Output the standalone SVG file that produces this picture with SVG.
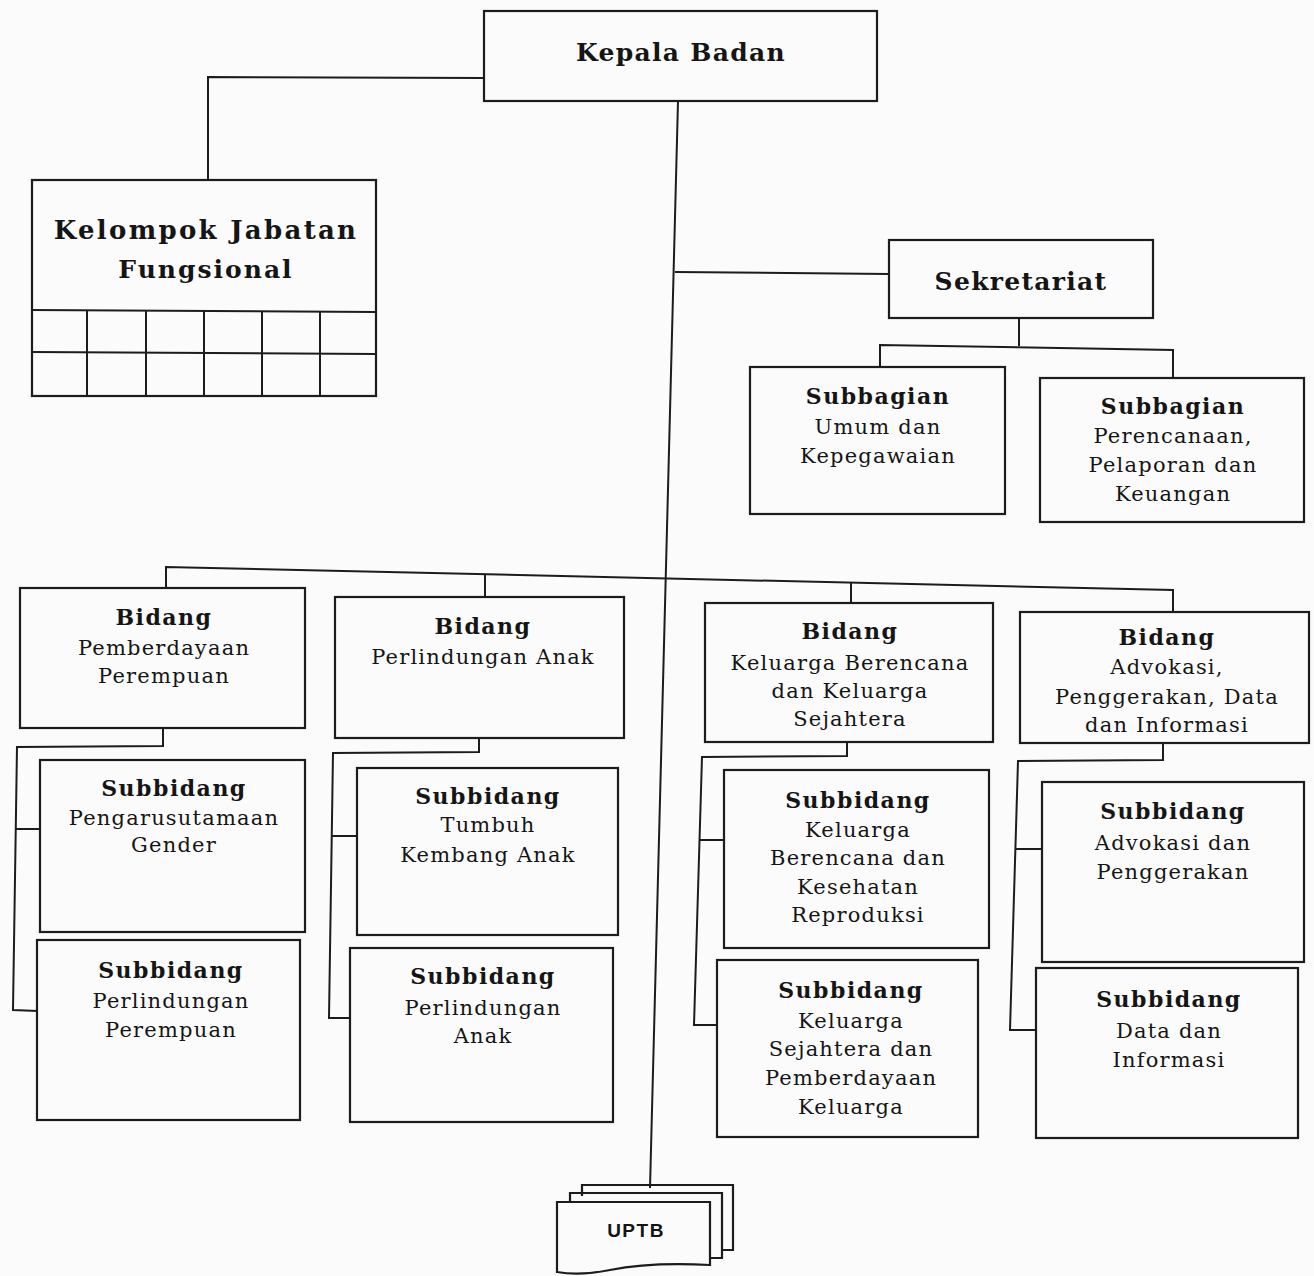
<svg xmlns="http://www.w3.org/2000/svg" width="1314" height="1276" viewBox="0 0 1314 1276">
<style>
.box{fill:none;stroke:#1c1c1c;stroke-width:2.2}
.ln{fill:none;stroke:#1c1c1c;stroke-width:2}
text{font-family:"DejaVu Serif","Liberation Serif",serif;fill:#151515;text-anchor:middle}
.b{font-weight:bold;font-size:22px;letter-spacing:1.5px}
.r{font-size:21px;letter-spacing:1.2px}
.big{font-weight:bold;font-size:25px;letter-spacing:1.3px}
</style>
<rect width="1314" height="1276" fill="#fbfbfb"/>
<g id="connectors">
<polyline class="ln" points="484,78 208,77 208,180"/>
<line class="ln" x1="678" y1="101" x2="650" y2="1188"/>
<line class="ln" x1="675" y1="272" x2="889" y2="274"/>
<polyline class="ln" points="1019,318 1019,346"/>
<polyline class="ln" points="880,368 880,345 1173,350 1173,378"/>
<polyline class="ln" points="166,588 166,567 1173,590 1173,612"/>
<line class="ln" x1="485" y1="575" x2="485" y2="598"/>
<line class="ln" x1="851" y1="583" x2="851" y2="604"/>
<polyline class="ln" points="163,728 163,746 17,747 13,1010 38,1011"/>
<line class="ln" x1="15" y1="829" x2="41" y2="829"/>
<polyline class="ln" points="479,738 479,752 333,753 329,1018 350,1018"/>
<line class="ln" x1="331" y1="836" x2="357" y2="836"/>
<polyline class="ln" points="847,742 847,756 702,757 694,1025 717,1025"/>
<line class="ln" x1="699" y1="840" x2="725" y2="840"/>
<polyline class="ln" points="1163,743 1163,760 1018,761 1010,1030 1036,1030"/>
<line class="ln" x1="1015" y1="849" x2="1042" y2="849"/>
</g>
<g id="kepala-badan">
<rect class="box" x="484" y="11" width="393" height="90"/>
<text class="big" x="681" y="61">Kepala Badan</text>
</g>
<g id="kelompok-jabatan-fungsional">
<rect class="box" x="32" y="180" width="344" height="216"/>
<line class="ln" x1="32" y1="310" x2="376" y2="312"/>
<line class="ln" x1="32" y1="352" x2="376" y2="354"/>
<line class="ln" x1="87" y1="310" x2="87" y2="396"/>
<line class="ln" x1="146" y1="310" x2="146" y2="396"/>
<line class="ln" x1="204" y1="311" x2="204" y2="396"/>
<line class="ln" x1="262" y1="311" x2="262" y2="396"/>
<line class="ln" x1="320" y1="311" x2="320" y2="396"/>
<text class="big" x="206" y="239" style="font-size:26px;letter-spacing:2.3px">Kelompok Jabatan</text>
<text class="big" x="206" y="278" style="letter-spacing:2px">Fungsional</text>
</g>
<g id="sekretariat">
<rect class="box" x="889" y="240" width="264" height="78"/>
<text class="big" x="1021" y="290">Sekretariat</text>
</g>
<g id="subbagian-umum">
<rect class="box" x="750" y="367" width="255" height="147"/>
<text class="b" x="878" y="404">Subbagian</text>
<text class="r" x="878" y="434">Umum dan</text>
<text class="r" x="878" y="463">Kepegawaian</text>
</g>
<g id="subbagian-perencanaan">
<rect class="box" x="1040" y="378" width="264" height="144"/>
<text class="b" x="1173" y="414">Subbagian</text>
<text class="r" x="1173" y="443">Perencanaan,</text>
<text class="r" x="1173" y="472">Pelaporan dan</text>
<text class="r" x="1173" y="501">Keuangan</text>
</g>
<g id="bidang-pp">
<rect class="box" x="20" y="588" width="285" height="140"/>
<text class="b" x="164" y="625">Bidang</text>
<text class="r" x="164" y="655">Pemberdayaan</text>
<text class="r" x="164" y="683">Perempuan</text>
</g>
<g id="bidang-pa">
<rect class="box" x="335" y="597" width="289" height="141"/>
<text class="b" x="483" y="634">Bidang</text>
<text class="r" x="483" y="664">Perlindungan Anak</text>
</g>
<g id="bidang-kb">
<rect class="box" x="705" y="603" width="288" height="139"/>
<text class="b" x="850" y="639">Bidang</text>
<text class="r" x="850" y="670">Keluarga Berencana</text>
<text class="r" x="850" y="698">dan Keluarga</text>
<text class="r" x="850" y="726">Sejahtera</text>
</g>
<g id="bidang-advokasi">
<rect class="box" x="1020" y="612" width="289" height="131"/>
<text class="b" x="1167" y="645">Bidang</text>
<text class="r" x="1167" y="674">Advokasi,</text>
<text class="r" x="1167" y="704">Penggerakan, Data</text>
<text class="r" x="1167" y="732">dan Informasi</text>
</g>
<g id="subbidang-gender">
<rect class="box" x="40" y="760" width="265" height="172"/>
<text class="b" x="174" y="796">Subbidang</text>
<text class="r" x="174" y="825">Pengarusutamaan</text>
<text class="r" x="174" y="852">Gender</text>
</g>
<g id="subbidang-perlindungan-perempuan">
<rect class="box" x="37" y="940" width="263" height="180"/>
<text class="b" x="171" y="978">Subbidang</text>
<text class="r" x="171" y="1008">Perlindungan</text>
<text class="r" x="171" y="1037">Perempuan</text>
</g>
<g id="subbidang-tumbuh-kembang">
<rect class="box" x="357" y="768" width="261" height="167"/>
<text class="b" x="488" y="804">Subbidang</text>
<text class="r" x="488" y="832">Tumbuh</text>
<text class="r" x="488" y="862">Kembang Anak</text>
</g>
<g id="subbidang-perlindungan-anak">
<rect class="box" x="350" y="948" width="263" height="174"/>
<text class="b" x="483" y="984">Subbidang</text>
<text class="r" x="483" y="1015">Perlindungan</text>
<text class="r" x="483" y="1043">Anak</text>
</g>
<g id="subbidang-kb-kesehatan">
<rect class="box" x="724" y="770" width="265" height="178"/>
<text class="b" x="858" y="808">Subbidang</text>
<text class="r" x="858" y="837">Keluarga</text>
<text class="r" x="858" y="865">Berencana dan</text>
<text class="r" x="858" y="894">Kesehatan</text>
<text class="r" x="858" y="922">Reproduksi</text>
</g>
<g id="subbidang-ks-pemberdayaan">
<rect class="box" x="717" y="960" width="261" height="177"/>
<text class="b" x="851" y="998">Subbidang</text>
<text class="r" x="851" y="1028">Keluarga</text>
<text class="r" x="851" y="1056">Sejahtera dan</text>
<text class="r" x="851" y="1085">Pemberdayaan</text>
<text class="r" x="851" y="1114">Keluarga</text>
</g>
<g id="subbidang-advokasi">
<rect class="box" x="1042" y="782" width="262" height="180"/>
<text class="b" x="1173" y="819">Subbidang</text>
<text class="r" x="1173" y="850">Advokasi dan</text>
<text class="r" x="1173" y="879">Penggerakan</text>
</g>
<g id="subbidang-data">
<rect class="box" x="1036" y="968" width="262" height="170"/>
<text class="b" x="1169" y="1007">Subbidang</text>
<text class="r" x="1169" y="1038">Data dan</text>
<text class="r" x="1169" y="1067">Informasi</text>
</g>
<g id="uptb">
<path class="box" d="M582,1196 V1185 H733 V1250 H722" fill="#fbfbfb"/>
<path class="box" d="M570,1202 V1193 H722 V1258 H710" fill="#fbfbfb"/>
<path class="box" d="M557,1202 H710 V1265 Q650,1262 610,1270 Q580,1276 557,1272 Z" fill="#fbfbfb"/>
<text x="636" y="1237" style="font-family:'Liberation Sans',Arial,sans-serif;font-weight:bold;font-size:19px;letter-spacing:1.5px">UPTB</text>
</g>
</svg>
